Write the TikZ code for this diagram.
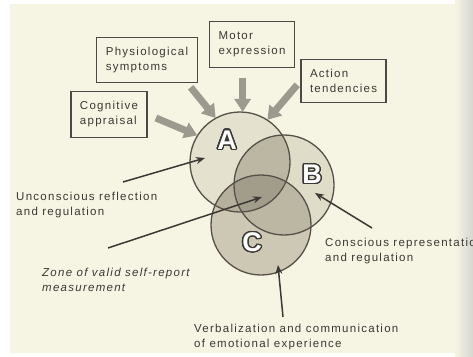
\documentclass[tikz,border=0pt]{standalone}
\usepackage{fontspec}
\setmainfont{Liberation Sans}[LetterSpace=11]
\usepackage{xcolor}
\usepackage{contour}
\usepackage{tikz}
\usetikzlibrary{arrows.meta, calc}

\definecolor{paper}{HTML}{F6F4E2}
\definecolor{edgegray}{HTML}{D6D6D2}
\definecolor{ink}{HTML}{3A3934}
\definecolor{boxgray}{HTML}{4A4944}
\definecolor{rimgray}{HTML}{565148}
\definecolor{arrgray}{HTML}{9C9A8F}
\definecolor{zoneA}{HTML}{E4E1CE}
\definecolor{zoneB}{HTML}{DFDCC8}
\definecolor{zoneC}{HTML}{CCC8B3}
\definecolor{zoneAB}{HTML}{C8C4AF}
\definecolor{zoneAC}{HTML}{B5B09C}
\definecolor{zoneBC}{HTML}{BCB7A3}
\definecolor{zoneABC}{HTML}{A29D8A}

\newcommand{\vennfont}{\fontsize{11.5}{15}\selectfont}
\newcommand{\vennr}{50pt}
\contourlength{1.3pt}
\contournumber{24}

\begin{document}
\begin{tikzpicture}[
    x=1pt, y=-1pt,
    venn/.style={circle, minimum size=100pt, inner sep=0pt},
    rim/.style={draw=rimgray, line width=1.3pt},
    box/.style={draw=boxgray, line width=1.1pt, fill=paper, align=left,
                inner xsep=9pt, inner ysep=10pt, font=\vennfont, text=ink},
    note/.style={align=left, inner sep=0pt, anchor=north west,
                 font=\vennfont, text=ink},
    letter/.style={font=\fontsize{27}{27}\selectfont\bfseries, text=white},
    fat/.style={-{Triangle[length=13pt, width=16pt]}, line width=7pt, draw=arrgray},
    arr/.style={-{Stealth[length=9pt, width=7pt]}, line width=1.5pt, draw=ink},
]
    \useasboundingbox (0,0) rectangle (473,356);
    \fill[white] (0,0) rectangle (473,356);
    \fill[paper] (10,4) rectangle (462,353);
    \shade[left color=paper, right color=edgegray] (455,0) rectangle (473,356);

    % Circles
    \node[venn] (A) at (240,162) {};
    \node[venn] (B) at (284,185) {};
    \node[venn] (C) at (261,225) {};

    \fill[zoneA] (A.center) circle[radius=\vennr];
    \fill[zoneB] (B.center) circle[radius=\vennr];
    \fill[zoneC] (C.center) circle[radius=\vennr];
    \begin{scope}
        \clip (A.center) circle[radius=\vennr];
        \fill[zoneAB] (B.center) circle[radius=\vennr];
        \fill[zoneAC] (C.center) circle[radius=\vennr];
        \clip (B.center) circle[radius=\vennr];
        \fill[zoneABC] (C.center) circle[radius=\vennr];
    \end{scope}
    \begin{scope}
        \clip (B.center) circle[radius=\vennr];
        \fill[zoneBC, even odd rule] (C.center) circle[radius=\vennr]
            (A.center) circle[radius=\vennr];
    \end{scope}
    \draw[rim] (A.center) circle[radius=\vennr];
    \draw[rim] (B.center) circle[radius=\vennr];
    \draw[rim] (C.center) circle[radius=\vennr];

    \node[letter] (labA) at (227,140.5) {\contour{ink}{A}};
    \node[letter] (labB) at (312,175) {\contour{ink}{B}};
    \node[letter] (labC) at (252,243) {\contour{ink}{C}};

    % Boxes
    \node[box] (phys) at (147,60) {Physiological\\symptoms};
    \node[box] (motor) at (252,44.5) {Motor\\expression};
    \node[box] (act) at (343.5,81) {Action\\tendencies};
    \node[box] (cog) at (109,114.5) {Cognitive\\appraisal};

    % Labels
    \node[note] (unc) at (16,191.5) {Unconscious reflection\\and regulation};
    \node[note, font=\vennfont\itshape] (zone) at (42,268) {Zone of valid self-report\\measurement};
    \node[note] (con) at (325,237.5) {Conscious representation\\and regulation};
    \node[note] (verb) at (194,323.5) {Verbalization and communication\\of emotional experience};

    \coordinate (uncTail) at (123,182);
    \coordinate (inA) at (205,158);
    \coordinate (zoneTail) at (108,248);
    \coordinate (inABC) at (262,197);
    \coordinate (conTail) at (372,228);
    \coordinate (inB) at (315,193);
    \coordinate (verbTail) at (283,317);
    \coordinate (inC) at (278,265);

    % Arrows
    \draw[fat, shorten <=9pt] (cog.east) -- (A.148);
    \draw[fat, shorten <=5pt] (phys.-30) -- (A.119);
    \draw[fat, shorten <=10pt] (A.87 |- motor.south) -- (A.87);
    \draw[fat, shorten <=5pt] (act.west) -- (A.57);

    \draw[arr] (uncTail) -- (inA);
    \draw[arr] (zoneTail) -- (inABC);
    \draw[arr] (conTail) -- (inB);
    \draw[arr] (verbTail) -- (inC);
\end{tikzpicture}
\end{document}
